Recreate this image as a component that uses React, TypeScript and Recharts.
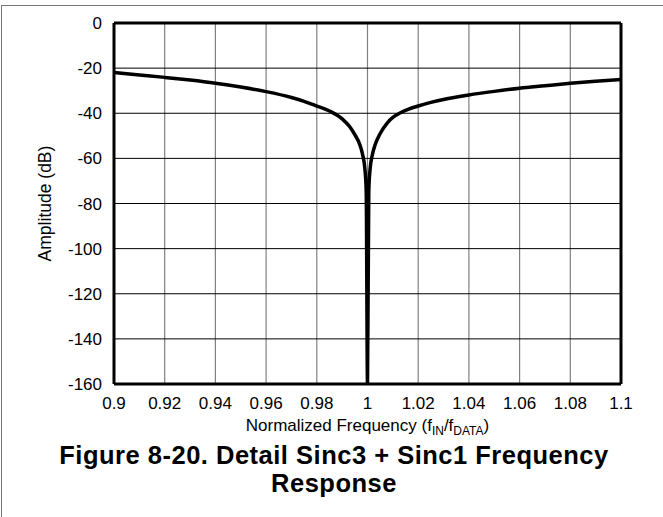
import React from 'react';
import { LineChart, Line, XAxis, YAxis, CartesianGrid, ReferenceLine } from 'recharts';

const frequency = [
  0.9, 0.91, 0.92, 0.93, 0.94, 0.95, 0.96, 0.97, 0.975, 0.98, 0.985, 0.99, 0.993, 0.995, 0.997, 0.998, 0.999, 0.9995,
  1.0,
  1.0005, 1.001, 1.002, 1.003, 1.005, 1.008, 1.01, 1.013, 1.016, 1.02, 1.025, 1.03, 1.04, 1.05, 1.06, 1.07, 1.08, 1.09, 1.1,
];
const amplitudeDb = [
  -21.9, -23.0, -24.1, -25.3, -26.7, -28.4, -30.4, -33.0, -34.7, -36.8, -39.0, -42.5, -46, -49.5, -54, -58, -65, -75,
  -160,
  -75, -65, -58, -54, -49, -44, -41.8, -39.8, -38.3, -36.8, -35.2, -33.9, -31.9, -30.3, -28.9, -27.8, -26.7, -25.8, -25.0,
];
const xTicks = [0.9, 0.92, 0.94, 0.96, 0.98, 1, 1.02, 1.04, 1.06, 1.08, 1.1];
const yTicks = [0, -20, -40, -60, -80, -100, -120, -140, -160];

const data = frequency.map((f, i) => ({ f, a: amplitudeDb[i] }));

const FONT = '"Liberation Sans", Arial, Helvetica, sans-serif';

const XLabel = (props: any) => {
  const vb = props.viewBox || {};
  const cx = vb.x + vb.width / 2;
  const y = vb.y + 47;
  return (
    <text x={cx} y={y} textAnchor="middle" fontFamily={FONT} fontSize={17} fill="#000">
      <tspan>Normalized Frequency  (f</tspan>
      <tspan fontSize={12} dy={3.5}>IN</tspan>
      <tspan dy={-3.5}>/f</tspan>
      <tspan fontSize={12} dy={3.5}>DATA</tspan>
      <tspan dy={-3.5}>)</tspan>
    </text>
  );
};

const YLabel = (props: any) => {
  const vb = props.viewBox || {};
  const cy = vb.y + vb.height / 2;
  const x = 51;
  return (
    <text x={x} y={cy} textAnchor="middle" fontFamily={FONT} fontSize={17.5} fill="#000" transform={`rotate(-90, ${x}, ${cy})`}>
      Amplitude (dB)
    </text>
  );
};

const titleStyle: React.CSSProperties = {
  position: 'absolute',
  left: 0,
  width: 668,
  textAlign: 'center',
  fontFamily: FONT,
  fontWeight: 'bold',
  fontSize: 25.5,
  letterSpacing: 0.5,
  lineHeight: '28.5px',
  color: '#000',
  whiteSpace: 'nowrap',
};

export default function App() {
  return (
    <div style={{ position: 'absolute', left: 0, top: 0, width: 663, height: 517, background: '#fff' }}>
      <div style={{ position: 'absolute', left: 1, top: 5, width: 662, height: 512, borderTop: '1px solid #777', borderLeft: '1px solid #777' }} />
      <div style={{ position: 'absolute', left: 0, top: 0 }}>
        <LineChart width={663} height={517} data={data} margin={{ top: 23, right: 42, bottom: 103, left: 54 }}>
          <CartesianGrid horizontal={false} stroke="#808080" strokeWidth={1.2} verticalValues={xTicks} />
          <CartesianGrid vertical={false} stroke="#000" strokeWidth={1} horizontalValues={yTicks} />
          <XAxis
            dataKey="f"
            type="number"
            domain={[0.9, 1.1]}
            ticks={xTicks}
            interval={0}
            allowDataOverflow
            tickLine={false}
            axisLine={{ stroke: '#000', strokeWidth: 3 }}
            tick={{ fill: '#000', fontSize: 17, fontFamily: FONT }}
            tickMargin={7}
            height={30}
            label={<XLabel />}
          />
          <YAxis
            type="number"
            domain={[-160, 0]}
            ticks={yTicks}
            interval={0}
            allowDataOverflow
            tickLine={false}
            axisLine={{ stroke: '#000', strokeWidth: 3 }}
            tick={{ fill: '#000', fontSize: 17, fontFamily: FONT }}
            tickMargin={6}
            width={60}
            label={<YLabel />}
          />
          <ReferenceLine y={0} stroke="#000" strokeWidth={3} />
          <ReferenceLine x={1.1} stroke="#000" strokeWidth={3} />
          <Line
            dataKey="a"
            type="monotone"
            stroke="#000"
            strokeWidth={3.5}
            dot={false}
            isAnimationActive={false}
          />
        </LineChart>
      </div>
      <div style={{ ...titleStyle, top: 440.5 }}>Figure 8-20. Detail Sinc3 + Sinc1 Frequency</div>
      <div style={{ ...titleStyle, top: 469 }}>Response</div>
    </div>
  );
}
